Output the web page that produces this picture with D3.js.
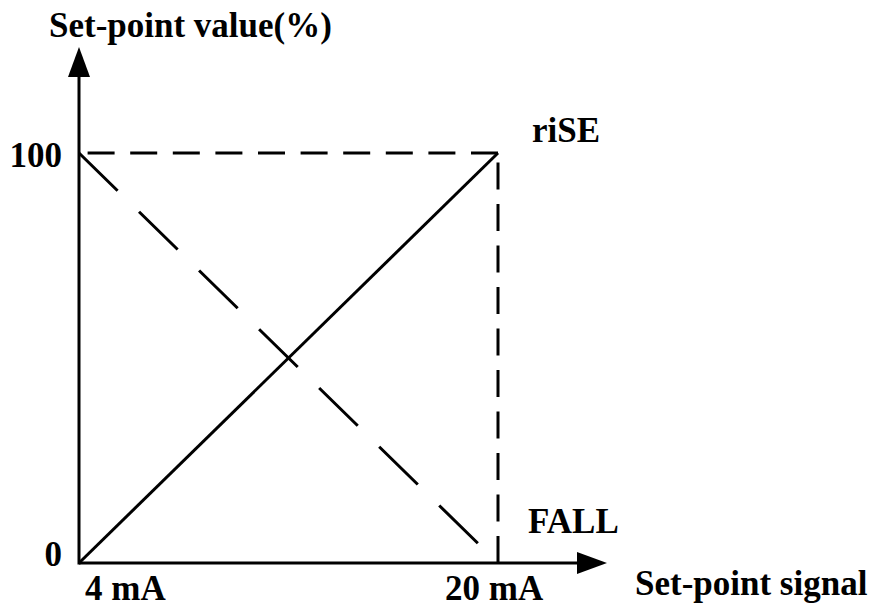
<!DOCTYPE html>
<html>
<head>
<meta charset="utf-8">
<script src="https://cdn.jsdelivr.net/npm/d3@7"></script>
<style>
  html, body { margin: 0; padding: 0; background: #fff; }
  svg { display: block; }
  text { font-family: "Liberation Serif", "Times New Roman", serif; font-weight: bold; fill: #000; }
</style>
</head>
<body>
<svg id="chart" width="872" height="608"></svg>
<script>
// Set-point signal range (mA) and the set-point value range (%)
const signalTicks = [4, 20];
const signalLabels = ["4 mA", "20 mA"];
const valueTicks = [0, 100];
const valueLabels = ["0", "100"];

// Two response curves: rising and falling characteristic
const riseSeries = [{ s: 4, v: 0 }, { s: 20, v: 100 }];
const fallSeries = [{ s: 4, v: 100 }, { s: 20, v: 0 }];

const seriesNames = { rise: "riSE", fall: "FALL" };
const xTitle = "Set-point signal";
const yTitle = "Set-point value(%)";

const svg = d3.select("#chart");

const x = d3.scaleLinear().domain([4, 20]).range([79, 498]);
const y = d3.scaleLinear().domain([0, 100]).range([563, 153]);

const ink = "#000";
const fontSize = 35;

// axes with arrowheads
const x0 = x(4), y0 = y(0);
const xEnd = 607, yEnd = 47;
const headLen = 30, headHalf = 11;

svg.append("line")
  .attr("x1", x0).attr("y1", y0).attr("x2", xEnd - headLen + 2).attr("y2", y0)
  .attr("stroke", ink).attr("stroke-width", 3);
svg.append("line")
  .attr("x1", x0).attr("y1", y0 + 1.5).attr("x2", x0).attr("y2", yEnd + headLen - 2)
  .attr("stroke", ink).attr("stroke-width", 3);

svg.append("path")
  .attr("d", `M${xEnd},${y0} L${xEnd - headLen},${y0 - headHalf} L${xEnd - headLen},${y0 + headHalf} Z`)
  .attr("fill", ink);
svg.append("path")
  .attr("d", `M${x0},${yEnd} L${x0 - headHalf},${yEnd + headLen} L${x0 + headHalf},${yEnd + headLen} Z`)
  .attr("fill", ink);

// dashed guide lines at the 100 % / 20 mA corner
svg.append("line")
  .attr("x1", x(20)).attr("y1", y(100)).attr("x2", x(4)).attr("y2", y(100))
  .attr("stroke", ink).attr("stroke-width", 3)
  .attr("stroke-dasharray", "27,15.6");
svg.append("line")
  .attr("x1", x(20)).attr("y1", y(0)).attr("x2", x(20)).attr("y2", y(100))
  .attr("stroke", ink).attr("stroke-width", 3)
  .attr("stroke-dasharray", "27,14.5");

const line = d3.line().x(d => x(d.s)).y(d => y(d.v));

// rising characteristic (solid)
svg.append("path")
  .attr("d", line(riseSeries))
  .attr("fill", "none").attr("stroke", ink).attr("stroke-width", 3);

// falling characteristic (long dashes)
svg.append("path")
  .attr("d", line(fallSeries))
  .attr("fill", "none").attr("stroke", ink).attr("stroke-width", 3)
  .attr("stroke-dasharray", "54,30");

// tick labels
const txt = (s, tx, ty) => svg.append("text")
  .attr("x", tx).attr("y", ty).attr("font-size", fontSize).text(s);

signalTicks.forEach((t, i) => {
  txt(signalLabels[i], x(t) + (i === 0 ? 6 : -53), 600);
});
valueTicks.forEach((t, i) => {
  svg.append("text")
    .attr("x", 62).attr("y", y(t) + (i === 0 ? 3 : 14))
    .attr("text-anchor", "end")
    .attr("font-size", fontSize)
    .text(valueLabels[i]);
});

// axis titles
txt(yTitle, 49, 37);
txt(xTitle, 635, 595);

// curve names
txt(seriesNames.rise, 532, 142);
txt(seriesNames.fall, 528, 533);
</script>
</body>
</html>
